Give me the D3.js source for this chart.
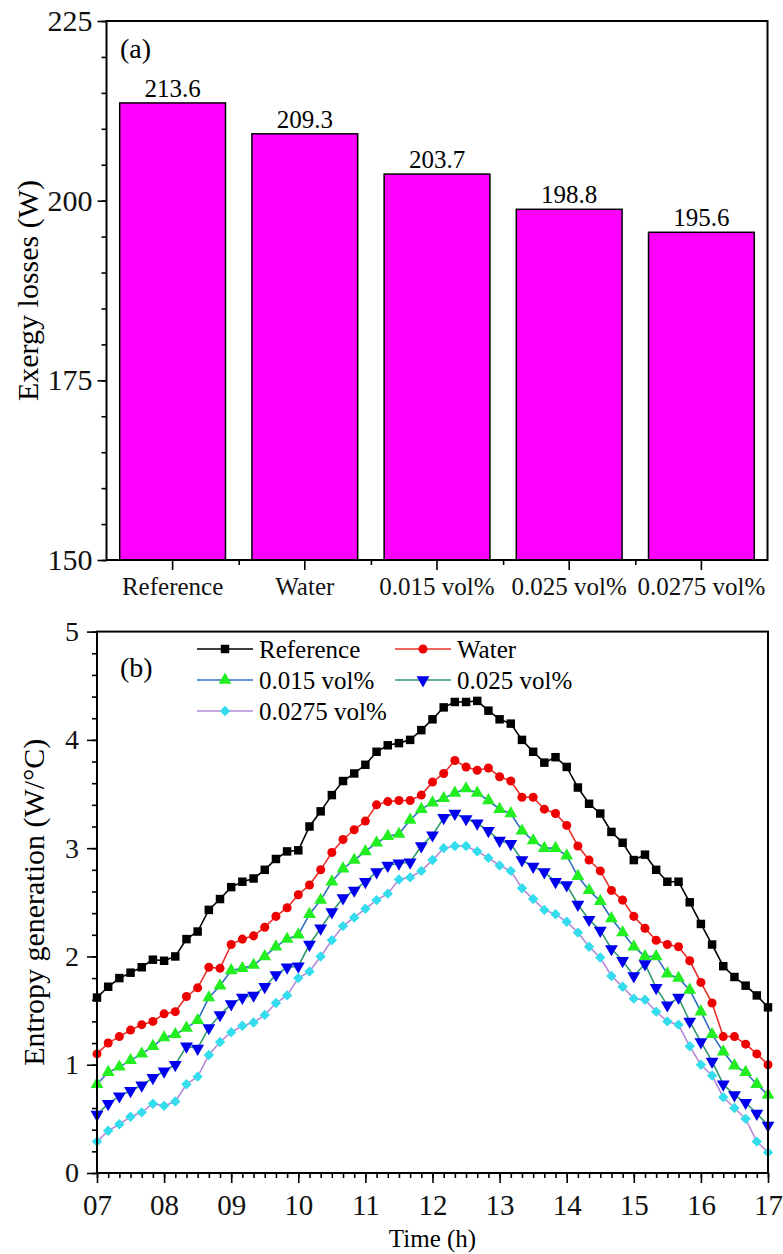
<!DOCTYPE html>
<html>
<head>
<meta charset="utf-8">
<script src="https://cdn.jsdelivr.net/npm/d3@7"></script>
<style>
  body { margin: 0; background: #fff; }
  svg { display: block; font-family: "Liberation Serif", "Times New Roman", serif; }
</style>
</head>
<body>
<div id="chart"></div>
<script>
////////////////////////////////////////////////////////////////////////
// Data

// panel (a): exergy losses per case
let cases = ["Reference", "Water", "0.015 vol%", "0.025 vol%", "0.0275 vol%"];
let exergyLosses = [213.6, 209.3, 203.7, 198.8, 195.6];

// panel (b): entropy generation, one reading every 10 minutes from 07:00 to 17:00
let timeStart = 7, timeEnd = 17, stepsPerHour = 6;
let hourTicks = ["07", "08", "09", "10", "11", "12", "13", "14", "15", "16", "17"];

let refEntropy = [1.62, 1.72, 1.80, 1.85, 1.90, 1.97, 1.96, 2.00, 2.16, 2.23, 2.43, 2.53,
  2.64, 2.69, 2.72, 2.80, 2.90, 2.97, 2.98, 3.20, 3.34, 3.49, 3.62, 3.69,
  3.77, 3.89, 3.95, 3.97, 4.00, 4.09, 4.19, 4.30, 4.35, 4.35, 4.36, 4.27,
  4.19, 4.15, 4.00, 3.89, 3.79, 3.84, 3.75, 3.56, 3.41, 3.32, 3.15, 3.05,
  2.89, 2.94, 2.80, 2.69, 2.69, 2.50, 2.30, 2.11, 1.91, 1.81, 1.73, 1.64, 1.53];

let waterEntropy = [1.10, 1.20, 1.26, 1.32, 1.37, 1.40, 1.47, 1.49, 1.63, 1.71, 1.90, 1.89,
  2.11, 2.16, 2.19, 2.27, 2.37, 2.45, 2.57, 2.66, 2.80, 2.96, 3.08, 3.17,
  3.25, 3.40, 3.43, 3.44, 3.44, 3.49, 3.61, 3.69, 3.81, 3.75, 3.72, 3.74,
  3.66, 3.62, 3.47, 3.47, 3.36, 3.32, 3.21, 3.02, 2.89, 2.79, 2.61, 2.52,
  2.37, 2.26, 2.15, 2.11, 2.09, 1.96, 1.76, 1.57, 1.26, 1.26, 1.19, 1.10, 1.00];

let vol015Entropy = [0.82, 0.93, 0.98, 1.04, 1.10, 1.17, 1.25, 1.28, 1.34, 1.41, 1.62, 1.73,
  1.87, 1.89, 1.92, 2.00, 2.09, 2.16, 2.20, 2.39, 2.52, 2.69, 2.81, 2.89,
  2.97, 3.05, 3.11, 3.13, 3.26, 3.36, 3.42, 3.46, 3.51, 3.55, 3.51, 3.44,
  3.36, 3.32, 3.16, 3.07, 3.00, 3.00, 2.93, 2.74, 2.61, 2.51, 2.35, 2.22,
  2.09, 2.00, 2.00, 1.84, 1.80, 1.69, 1.49, 1.28, 1.12, 0.99, 0.93, 0.82, 0.72];

let vol025Entropy = [0.54, 0.64, 0.71, 0.76, 0.81, 0.88, 0.94, 1.00, 1.17, 1.15, 1.34, 1.46,
  1.56, 1.62, 1.64, 1.72, 1.83, 1.90, 1.91, 2.11, 2.26, 2.41, 2.54, 2.61,
  2.69, 2.78, 2.84, 2.86, 2.87, 3.02, 3.12, 3.28, 3.32, 3.27, 3.23, 3.16,
  3.07, 3.04, 2.89, 2.83, 2.78, 2.69, 2.66, 2.48, 2.34, 2.24, 2.07, 1.96,
  1.82, 1.93, 1.71, 1.55, 1.62, 1.40, 1.21, 1.03, 0.82, 0.72, 0.65, 0.55, 0.44];

let vol0275Entropy = [0.29, 0.39, 0.45, 0.52, 0.56, 0.64, 0.62, 0.66, 0.82, 0.89, 1.09, 1.21,
  1.30, 1.36, 1.39, 1.46, 1.57, 1.64, 1.80, 1.86, 2.00, 2.15, 2.28, 2.36,
  2.44, 2.52, 2.58, 2.71, 2.73, 2.79, 2.89, 3.00, 3.02, 3.02, 2.97, 2.91,
  2.84, 2.79, 2.63, 2.53, 2.43, 2.39, 2.32, 2.22, 2.09, 1.99, 1.82, 1.72,
  1.61, 1.60, 1.49, 1.40, 1.37, 1.17, 1.00, 0.90, 0.70, 0.60, 0.50, 0.29, 0.19];

// series styles: line colour, marker colour, marker shape
let seriesList = [
  { name: "Reference",   values: refEntropy,     line: "#000000", fill: "#000000", shape: "square" },
  { name: "Water",       values: waterEntropy,   line: "#e8302a", fill: "#ee0000", shape: "circle" },
  { name: "0.015 vol%",  values: vol015Entropy,  line: "#2f6fc0", fill: "#22ee22", shape: "triangle" },
  { name: "0.025 vol%",  values: vol025Entropy,  line: "#2f9a6a", fill: "#0000ee", shape: "triangleDown" },
  { name: "0.0275 vol%", values: vol0275Entropy, line: "#b58ad8", fill: "#33ddee", shape: "diamond" }
];

////////////////////////////////////////////////////////////////////////
// Svg

let width = 783, height = 1254;
let svg = d3.select("#chart").append("svg")
  .attr("width", width).attr("height", height);

let boxA = { left: 106.5, right: 767.5, top: 21, bottom: 560 };
let boxB = { left: 97, right: 768, top: 631.6, bottom: 1173 };

function frame(box) {
  svg.append("rect")
    .attr("x", box.left).attr("y", box.top)
    .attr("width", box.right - box.left).attr("height", box.bottom - box.top)
    .attr("fill", "none").attr("stroke", "#000").attr("stroke-width", 2);
}

function styleAxis(g, fontSize) {
  g.select(".domain").remove();
  g.selectAll("line").attr("stroke", "#000").attr("stroke-width", 1.6);
  g.selectAll("text").attr("font-size", fontSize).attr("fill", "#111")
    .attr("font-family", "Liberation Serif");
}

////////////////////////////////////////////////////////////////////////
// Panel (a): bars

let xA = d3.scaleBand().domain(cases).range([boxA.left, boxA.right])
  .paddingInner(0.2).paddingOuter(0.1);
let yA = d3.scaleLinear().domain([150, 225]).range([boxA.bottom, boxA.top]);

svg.append("g").selectAll("rect").data(cases).enter().append("rect")
  .attr("x", d => xA(d))
  .attr("width", xA.bandwidth())
  .attr("y", (d, i) => yA(exergyLosses[i]))
  .attr("height", (d, i) => yA(150) - yA(exergyLosses[i]))
  .attr("fill", "#ff00ff")
  .attr("stroke", "#000").attr("stroke-width", 1.5);

svg.append("g").selectAll("text").data(cases).enter().append("text")
  .attr("x", d => xA(d) + xA.bandwidth() / 2)
  .attr("y", (d, i) => yA(exergyLosses[i]) - 6)
  .attr("text-anchor", "middle")
  .attr("font-size", 25)
  .text((d, i) => exergyLosses[i].toFixed(1));

// y axis, major + minor
svg.append("g").attr("transform", "translate(" + boxA.left + ",0)")
  .call(d3.axisLeft(yA).tickValues(d3.range(150, 226, 5)).tickSize(5).tickFormat(""))
  .call(g => styleAxis(g, 30));
svg.append("g").attr("transform", "translate(" + boxA.left + ",0)")
  .call(d3.axisLeft(yA).tickValues([150, 175, 200, 225]).tickSize(9).tickPadding(5))
  .call(g => styleAxis(g, 30));

// x axis: major at bar centres, minor at band edges
let bandEdges = cases.slice(1).map(d => xA(d) - xA.step() * xA.paddingInner() / 2);
svg.append("g").attr("transform", "translate(0," + boxA.bottom + ")")
  .call(d3.axisBottom(d3.scaleIdentity()).tickValues(bandEdges).tickSize(5).tickFormat(""))
  .call(g => styleAxis(g, 25));
svg.append("g").attr("transform", "translate(0," + boxA.bottom + ")")
  .call(d3.axisBottom(xA).tickSize(10).tickPadding(6))
  .call(g => styleAxis(g, 25))
  .call(g => g.selectAll("text").attr("y", 26).attr("dy", "0.35em"));

frame(boxA);

svg.append("text").attr("x", 120).attr("y", 48).attr("dy", "0.35em")
  .attr("font-size", 28).text("(a)");

svg.append("text")
  .attr("transform", "translate(27," + ((boxA.top + boxA.bottom) / 2) + ") rotate(-90)")
  .attr("text-anchor", "middle").attr("dy", "0.35em")
  .attr("font-size", 30).text("Exergy losses (W)");

////////////////////////////////////////////////////////////////////////
// Panel (b): lines

let times = d3.range(0, (timeEnd - timeStart) * stepsPerHour + 1).map(i => timeStart + i / stepsPerHour);

let xB = d3.scaleLinear().domain([timeStart, timeEnd]).range([boxB.left, boxB.right]);
let yB = d3.scaleLinear().domain([0, 5]).range([boxB.bottom, boxB.top]);

svg.append("g").attr("transform", "translate(" + boxB.left + ",0)")
  .call(d3.axisLeft(yB).tickValues(d3.range(0, 26).map(i => i / 5)).tickSize(5).tickFormat(""))
  .call(g => styleAxis(g, 28));
svg.append("g").attr("transform", "translate(" + boxB.left + ",0)")
  .call(d3.axisLeft(yB).ticks(5).tickSize(10).tickPadding(8).tickFormat(d3.format("d")))
  .call(g => styleAxis(g, 28));

svg.append("g").attr("transform", "translate(0," + boxB.bottom + ")")
  .call(d3.axisBottom(xB).tickValues(times).tickSize(5).tickFormat(""))
  .call(g => styleAxis(g, 29));
svg.append("g").attr("transform", "translate(0," + boxB.bottom + ")")
  .call(d3.axisBottom(xB).ticks(10).tickSize(10).tickFormat((d, i) => hourTicks[i]))
  .call(g => styleAxis(g, 29))
  .call(g => g.selectAll("text").attr("y", 32).attr("dy", "0.35em"));

let symbolTypes = {
  square: d3.symbolSquare, circle: d3.symbolCircle, triangle: d3.symbolTriangle,
  triangleDown: d3.symbolTriangle, diamond: d3.symbolSquare
};
let symbolSizes = { square: 72, circle: 64, triangle: 72, triangleDown: 72, diamond: 54 };
let symbolRotation = { square: 0, circle: 0, triangle: 0, triangleDown: 180, diamond: 45 };

function marker(g, s, x, y) {
  g.append("path")
    .attr("d", d3.symbol().type(symbolTypes[s.shape]).size(symbolSizes[s.shape])())
    .attr("transform", "translate(" + x + "," + y + ") rotate(" + symbolRotation[s.shape] + ")")
    .attr("fill", s.fill);
}

let line = d3.line().x((d, i) => xB(times[i])).y(d => yB(d));

seriesList.forEach(function(s) {
  let g = svg.append("g");
  g.append("path").datum(s.values)
    .attr("d", line).attr("fill", "none")
    .attr("stroke", s.line).attr("stroke-width", 1.6);
  s.values.forEach((v, i) => marker(g, s, xB(times[i]), yB(v)));
});

frame(boxB);

// legend (two columns, three rows)
let legendX = [197, 395], legendY = [649, 680, 711];
seriesList.forEach(function(s, i) {
  let lx = legendX[i % 2], ly = legendY[Math.floor(i / 2)];
  let g = svg.append("g");
  g.append("line").attr("x1", lx).attr("x2", lx + 56).attr("y1", ly).attr("y2", ly)
    .attr("stroke", s.line).attr("stroke-width", 1.6);
  marker(g, s, lx + 28, ly);
  g.append("text").attr("x", lx + 62).attr("y", ly).attr("dy", "0.35em")
    .attr("font-size", 25).text(s.name);
});

svg.append("text").attr("x", 120).attr("y", 667).attr("dy", "0.35em")
  .attr("font-size", 28).text("(b)");

svg.append("text")
  .attr("transform", "translate(33," + ((boxB.top + boxB.bottom) / 2) + ") rotate(-90)")
  .attr("text-anchor", "middle").attr("dy", "0.35em")
  .attr("font-size", 30).text("Entropy generation (W/\u00B0C)");

svg.append("text")
  .attr("x", (boxB.left + boxB.right) / 2).attr("y", 1238).attr("dy", "0.35em")
  .attr("text-anchor", "middle").attr("font-size", 25).text("Time (h)");
</script>
</body>
</html>
